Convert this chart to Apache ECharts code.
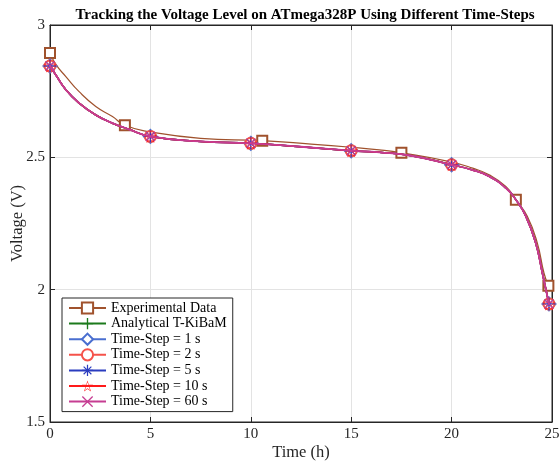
<!DOCTYPE html>
<html>
<head>
<meta charset="utf-8">
<script src="https://cdn.jsdelivr.net/npm/echarts@6/dist/echarts.min.js"></script>
<style>html,body{margin:0;padding:0;background:#fff;}#c{width:560px;height:463px;}</style>
</head>
<body>
<div id="c"></div>
<script>
// ---- data ----
var titleText = 'Tracking the Voltage Level on ATmega328P Using Different Time-Steps';
var xName = 'Time (h)';
var yName = 'Voltage (V)';
var xTicks = [0, 5, 10, 15, 20, 25];
var yTicks = [1.5, 2, 2.5, 3];

var expT = [0, 0.3, 0.79, 1.45, 2.28, 3.11, 3.73, 4.93, 7.5, 10.57, 13, 15, 16.4, 17.5, 19.9, 21.05, 21.87, 22.7, 23.2, 23.77, 24.27, 24.6, 24.82];
var expV = [2.894, 2.85, 2.805, 2.748, 2.692, 2.654, 2.621, 2.597, 2.572, 2.563, 2.550, 2.538, 2.528, 2.517, 2.484, 2.459, 2.434, 2.39, 2.34, 2.277, 2.176, 2.063, 2.015];
var expMarkerT = [0, 3.73, 10.57, 17.5, 23.2, 24.82];

var simT = [0, 0.3, 0.79, 1.45, 2.28, 3.11, 3.93, 5, 7.5, 10, 12.5, 15, 16.4, 18, 20, 21.05, 21.87, 22.7, 23.2, 23.7, 24.19, 24.52, 24.85];
var simV = [2.845, 2.81, 2.755, 2.705, 2.660, 2.629, 2.606, 2.579, 2.560, 2.553, 2.540, 2.525, 2.519, 2.506, 2.472, 2.452, 2.428, 2.384, 2.340, 2.277, 2.176, 2.063, 1.946];
var simMarkerT = [0, 5, 10, 15, 20, 24.85];

var seriesNames = ['Experimental Data', 'Analytical T-KiBaM', 'Time-Step = 1 s', 'Time-Step = 2 s', 'Time-Step = 5 s', 'Time-Step = 10 s', 'Time-Step = 60 s'];

// ---- styles ----
var FONT = '"Liberation Serif", "Times New Roman", serif';
var AX = '#262626';
var PLUS = 'path://M4.4,0h1.2v4.4h4.4v1.2h-4.4v4.4h-1.2v-4.4h-4.4v-1.2h4.4z';
var XSYM = 'path://M0,0.8L0.8,0L10,9.2L9.2,10Z M9.2,0L10,0.8L0.8,10L0,9.2Z';
var AST = 'path://M4.45,0h1.1v4.45h4.45v1.1h-4.45v4.45h-1.1v-4.45h-4.45v-1.1h4.45z M1.2,1.9L1.9,1.2L8.8,8.1L8.1,8.8Z M8.1,1.2L8.8,1.9L1.9,8.8L1.2,8.1Z';
var STAR = 'path://M5,0L6.123,3.455L9.755,3.455L6.816,5.59L7.939,9.045L5,6.91L2.061,9.045L3.184,5.59L0.245,3.455L3.877,3.455Z M5,1.25L4.158,3.841L1.434,3.841L3.638,5.443L2.796,8.034L5,6.433L7.204,8.034L6.362,5.443L8.566,3.841L5.842,3.841Z';

var styles = [
  {color: '#a0522d', symbol: 'emptyRect', size: 10, width: 1.2},
  {color: '#1c7a1c', symbol: PLUS, size: 12, width: 1.5},
  {color: '#4a6fd0', symbol: 'emptyDiamond', size: 13, width: 1.5},
  {color: '#f5524a', symbol: 'emptyCircle', size: 11, width: 1.5},
  {color: '#2a3cbf', symbol: AST, size: 12, width: 1.5},
  {color: '#ff1a1a', symbol: STAR, size: 13, width: 1.5},
  {color: '#c63d92', symbol: XSYM, size: 10, width: 1.8}
];

function buildData(ts, vs, marks) {
  return ts.map(function (t, i) {
    var isMark = marks.indexOf(t) >= 0;
    return isMark ? {value: [t, vs[i]]} : {value: [t, vs[i]], symbol: 'none'};
  });
}

var series = seriesNames.map(function (name, k) {
  var st = styles[k];
  var data = k === 0 ? buildData(expT, expV, expMarkerT) : buildData(simT, simV, simMarkerT);
  return {
    name: name,
    type: 'line',
    xAxisIndex: 0,
    yAxisIndex: 0,
    data: data,
    smooth: 0.5,
    symbol: st.symbol,
    symbolSize: st.size,
    showAllSymbol: true,
    color: st.color,
    itemStyle: {color: st.color, borderWidth: 1},
    lineStyle: {color: st.color, width: st.width},
    emphasis: {disabled: true},
    animation: false,
    z: 2 + k
  };
});

var chart = echarts.init(document.getElementById('c'), null, {renderer: 'canvas'});
var axisCommon = {
  type: 'value',
  axisLine: {show: true, onZero: false, lineStyle: {color: AX, width: 1}},
  axisTick: {show: true, inside: true, length: 5, lineStyle: {color: AX}},
  axisLabel: {color: AX, fontFamily: FONT, fontSize: 15},
  splitLine: {show: true, lineStyle: {color: '#e3e3e3', width: 1}}
};
chart.setOption({
  backgroundColor: '#fff',
  animation: false,
  title: {
    text: titleText,
    left: 300, top: 3, textAlign: 'center',
    textStyle: {fontFamily: FONT, fontSize: 15, fontWeight: 'bold', color: '#000'}
  },
  grid: {left: 50, right: 8, top: 25, bottom: 41, show: true, borderColor: AX, borderWidth: 1,
         backgroundColor: 'transparent', containLabel: false, outerBoundsMode: 'none'},
  legend: {
    orient: 'vertical',
    left: 62, top: 298,
    data: seriesNames,
    itemWidth: 37, itemHeight: 14, itemGap: 1.6, itemTextGap: 3,
    padding: [3, 6, 3, 6],
    borderColor: AX, borderWidth: 1, backgroundColor: '#fff',
    textStyle: {fontFamily: FONT, fontSize: 14, color: '#000'},
    selectedMode: false
  },
  xAxis: [
    Object.assign({}, axisCommon, {
      min: xTicks[0], max: xTicks[xTicks.length - 1], interval: 5,
      position: 'bottom',
      name: xName, nameLocation: 'middle', nameGap: 22, nameMoveOverlap: false,
      nameTextStyle: {fontFamily: FONT, fontSize: 16.5, color: AX},
      axisLabel: {color: AX, fontFamily: FONT, fontSize: 15, margin: 5}
    }),
    Object.assign({}, axisCommon, {
      min: xTicks[0], max: xTicks[xTicks.length - 1], interval: 5,
      position: 'top', axisLabel: {show: false}, splitLine: {show: false}
    })
  ],
  yAxis: [
    Object.assign({}, axisCommon, {
      min: yTicks[0], max: yTicks[yTicks.length - 1], interval: 0.5,
      position: 'left',
      name: yName, nameLocation: 'middle', nameGap: 24, nameMoveOverlap: false,
      nameTextStyle: {fontFamily: FONT, fontSize: 16.5, color: AX},
      axisLabel: {color: AX, fontFamily: FONT, fontSize: 15, margin: 5}
    }),
    Object.assign({}, axisCommon, {
      min: yTicks[0], max: yTicks[yTicks.length - 1], interval: 0.5,
      position: 'right', axisLabel: {show: false}, splitLine: {show: false}
    })
  ],
  series: series
});
</script>
</body>
</html>
